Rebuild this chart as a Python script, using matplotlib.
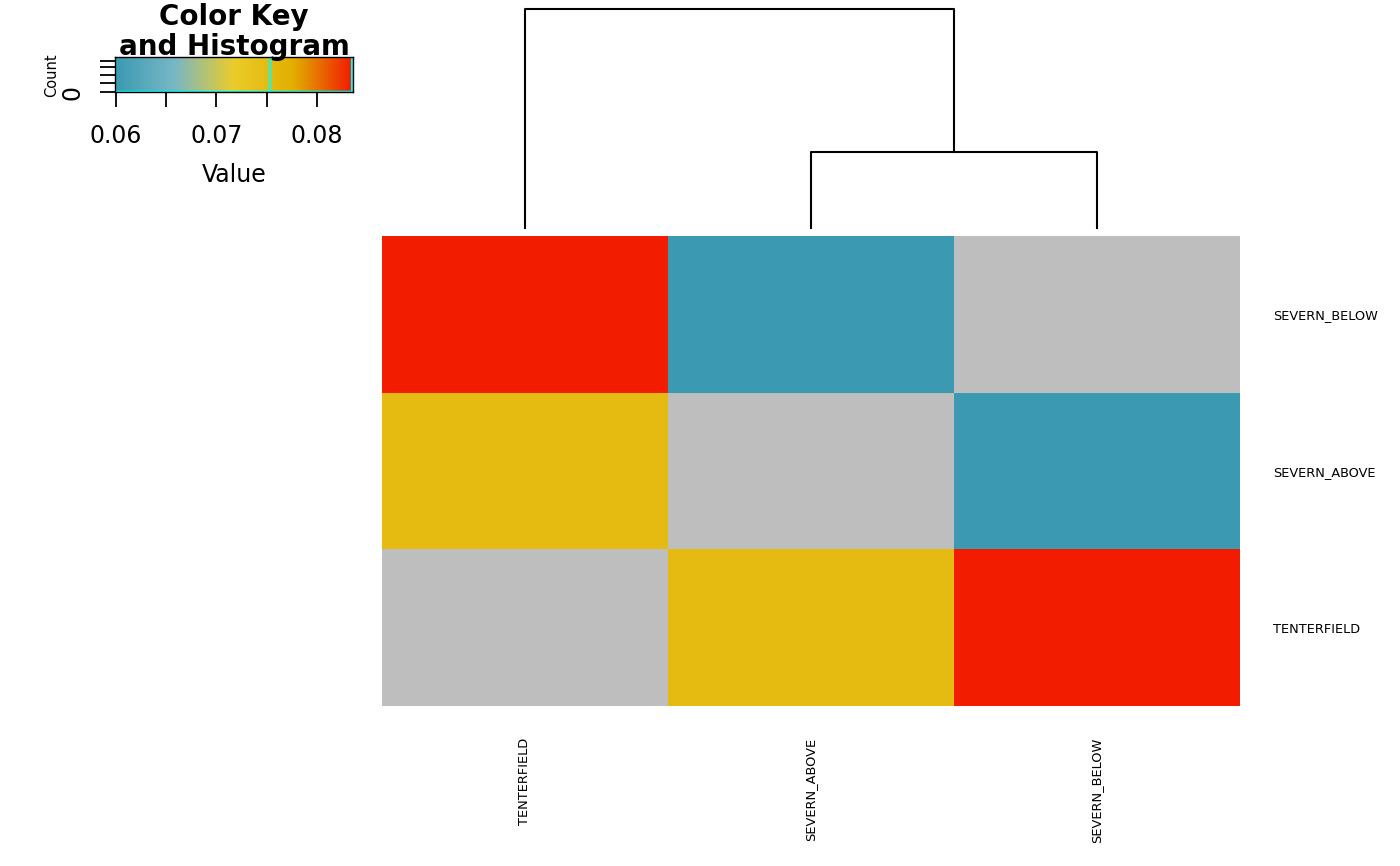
import numpy as np
import matplotlib
matplotlib.use("Agg")
import matplotlib.pyplot as plt
from matplotlib.colors import LinearSegmentedColormap, Normalize

W, H = 1400, 866

col_labels = ["TENTERFIELD", "SEVERN_ABOVE", "SEVERN_BELOW"]
row_labels = ["SEVERN_BELOW", "SEVERN_ABOVE", "TENTERFIELD"]   # top to bottom
values = np.array([
    [0.0835, 0.0599, np.nan],
    [0.0753, np.nan, 0.0599],
    [np.nan, 0.0753, 0.0835],
])

# column dendrogram: leaves 0..2, node 3 = first merge
merge_pairs = [(1, 2), (0, 3)]
merge_heights = [0.060, 0.174]

key_ticks = [0.06, 0.065, 0.07, 0.075, 0.08]
key_ticklabels = ["0.06", "", "0.07", "", "0.08"]
count_ticks = [0, 0.26, 0.49, 0.71, 0.9]
count_ticklabels = ["0", "", "", "", ""]
hist_lines = [0.0599, 0.0753, 0.0835]
vmin, vmax = 0.0599, 0.0836

zissou = ["#3B9AB2", "#78B7C5", "#EBCC2A", "#E1AF00", "#F21A00"]
cmap = LinearSegmentedColormap.from_list("zissou", zissou, N=256)
cmap.set_bad("#BEBEBE")
norm = Normalize(vmin, vmax)


def px_axes(fig, x0, y0, x1, y1):
    return fig.add_axes([x0 / W, 1 - y1 / H, (x1 - x0) / W, (y1 - y0) / H])


fig = plt.figure(figsize=(14, 8.66), dpi=100)

# heatmap
ax = px_axes(fig, 382, 236, 1240, 706)
ax.pcolormesh(np.ma.masked_invalid(values), cmap=cmap, norm=norm)
ax.set_xlim(0, 3)
ax.set_ylim(3, 0)
for s in ax.spines.values():
    s.set_visible(False)
ax.yaxis.tick_right()
ax.set_yticks(np.arange(3) + 0.5, row_labels, fontsize=9.3)
ax.set_xticks(np.arange(3) + 0.5, col_labels, fontsize=9.4, rotation=90, va="top")
ax.tick_params(axis="y", length=0, pad=23.5)
ax.tick_params(axis="x", length=0, pad=23)

# column dendrogram
dax = px_axes(fig, 382, 9, 1240, 228)
dax.set_xlim(0, 3)
dax.set_ylim(0, max(merge_heights))
dax.axis("off")
node_x = [0.5, 1.5, 2.5]
node_h = [0, 0, 0]
for (a, b), h in zip(merge_pairs, merge_heights):
    xa, xb = node_x[a], node_x[b]
    dax.plot([xa, xa, xb, xb], [node_h[a], h, h, node_h[b]], color="black",
             lw=1.5, solid_capstyle="projecting", clip_on=False)
    node_x.append((xa + xb) / 2)
    node_h.append(h)

# color key and histogram
kax = px_axes(fig, 115, 57, 353, 92)
grad = np.linspace(vmin, vmax, 512).reshape(1, -1)
kax.imshow(grad, cmap=cmap, norm=norm, aspect="auto", extent=[vmin, vmax, 0, 1])
kax.set_xlim(vmin, vmax)
kax.set_ylim(0, 1)
for v in hist_lines:
    kax.axvline(v, color="cyan", lw=1.6)
kax.axhline(0, color="cyan", lw=2.5)
kax.set_xticks(key_ticks, key_ticklabels, fontsize=17)
kax.set_yticks(count_ticks, count_ticklabels, fontsize=17, rotation=90, va="center")
kax.tick_params(axis="x", length=10.8, width=1.3, pad=12)
kax.tick_params(axis="y", length=10.8, width=1.3, pad=11)
for s in kax.spines.values():
    s.set_linewidth(1.0)
kax.set_xlabel("Value", fontsize=17, labelpad=11)
kax.text(-0.265, 0.49, "Count", transform=kax.transAxes, rotation=90,
         ha="center", va="center", fontsize=10.5)
kax.text(0.5, 1.057, "Color Key\nand Histogram", transform=kax.transAxes,
         ha="center", va="baseline", fontsize=20, fontweight="bold",
         linespacing=1.08)

fig.savefig("out.png", dpi=100)
